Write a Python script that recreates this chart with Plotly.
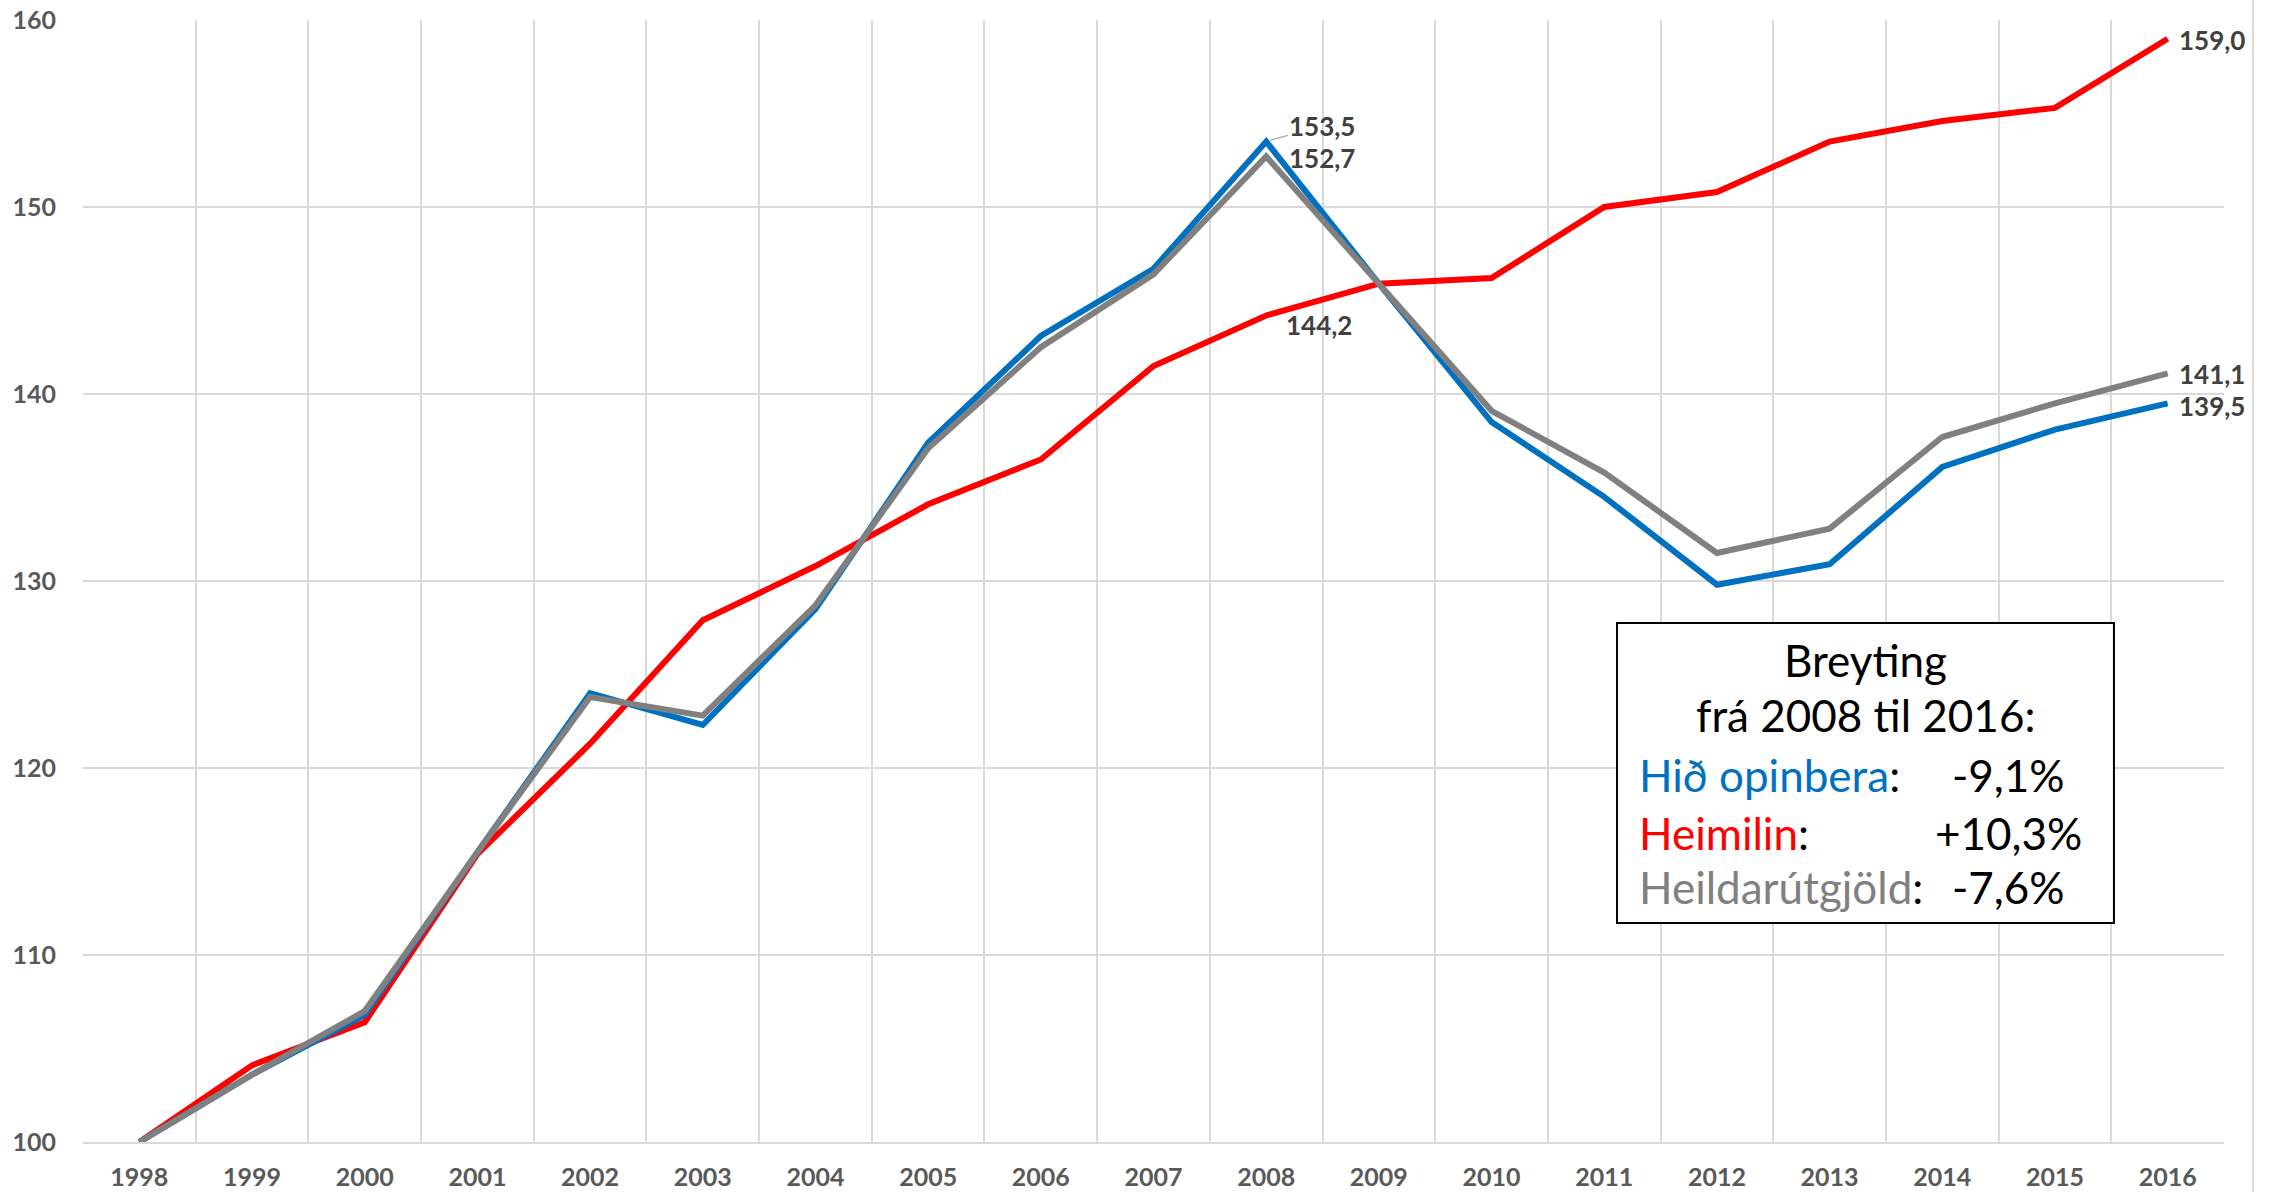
import plotly.graph_objects as go

years = [str(y) for y in range(1998, 2017)]
opinbera = [100, 103.6, 106.8, 115.5, 124.0, 122.3, 128.5, 137.4, 143.1, 146.7, 153.5,
            145.9, 138.5, 134.5, 129.8, 130.9, 136.1, 138.1, 139.5]
heimilin = [100, 104.1, 106.4, 115.4, 121.3, 127.9, 130.8, 134.1, 136.5, 141.5, 144.2,
            145.9, 146.2, 150.0, 150.8, 153.5, 154.6, 155.3, 159.0]
heild = [100, 103.6, 107.0, 115.5, 123.8, 122.8, 128.7, 137.1, 142.5, 146.4, 152.7,
         145.9, 139.1, 135.8, 131.5, 132.8, 137.7, 139.5, 141.1]
y_ticks = [100, 110, 120, 130, 140, 150, 160]

BLUE = "#0070C0"
RED = "#FF0000"
GRAY = "#808080"
FONT = "Lato"

fig = go.Figure()
for name, vals, col in [("Heimilin", heimilin, RED), ("Hið opinbera", opinbera, BLUE),
                        ("Heildarútgjöld", heild, GRAY)]:
    fig.add_trace(go.Scatter(x=years, y=vals, mode="lines", name=name,
                             line=dict(color=col, width=6), showlegend=False))

def fmt(v):
    return f"{v:.1f}".replace(".", ",")

lab_font = dict(family=FONT, size=26, color="#404040", weight="bold")
ann = []
i08 = years.index("2008")
i16 = len(years) - 1
# 2008 labels
ann.append(dict(x=i08, y=opinbera[i08], text=fmt(opinbera[i08]), showarrow=True,
                arrowhead=0, arrowwidth=1.2, arrowcolor="#A6A6A6", ax=56, ay=-16,
                standoff=4, font=lab_font, xanchor="center", yanchor="middle"))
ann.append(dict(x=i08, y=heild[i08], text=fmt(heild[i08]), showarrow=False,
                xshift=56, yshift=-1, font=lab_font, xanchor="center", yanchor="middle"))
ann.append(dict(x=i08, y=heimilin[i08], text=fmt(heimilin[i08]), showarrow=False,
                xshift=53, yshift=-10, font=lab_font, xanchor="center", yanchor="middle"))
# 2016 labels
for vals, ys in [(heimilin, -1), (heild, -1), (opinbera, -3)]:
    ann.append(dict(x=i16, y=vals[-1], text=fmt(vals[-1]), showarrow=False,
                    xanchor="left", yanchor="middle", xshift=9, yshift=ys, font=lab_font))

# change box
box_font = 44
bx0, bx1, by0, by1 = 0.7165, 0.9486, 0.1952, 0.4626
cx = (bx0 + bx1) / 2
ann.append(dict(xref="paper", yref="paper", x=cx, y=0.430, text="Breyting", showarrow=False,
                xanchor="center", yanchor="middle",
                font=dict(family=FONT, size=box_font, color="black")))
ann.append(dict(xref="paper", yref="paper", x=cx, y=0.381, text="frá 2008 til 2016:",
                showarrow=False, xanchor="center", yanchor="middle",
                font=dict(family=FONT, size=box_font, color="black")))
rows = [("Hið opinbera", BLUE, "-9,1%", 0.327), ("Heimilin", RED, "+10,3%", 0.275),
        ("Heildarútgjöld", GRAY, "-7,6%", 0.227)]
for lab, col, val, yy in rows:
    ann.append(dict(xref="paper", yref="paper", x=0.7257, y=yy, xanchor="left",
                    yanchor="middle",
                    text=f"<span style='color:{col}'>{lab}</span>:", showarrow=False,
                    font=dict(family=FONT, size=box_font, color="black")))
    ann.append(dict(xref="paper", yref="paper", x=0.8995, y=yy, xanchor="center",
                    yanchor="middle", text=val, showarrow=False,
                    font=dict(family=FONT, size=box_font, color="black")))

fig.update_layout(
    width=2272, height=1192,
    margin=dict(l=83, r=48, t=20, b=50, autoexpand=False),
    plot_bgcolor="white", paper_bgcolor="white",
    annotations=ann,
    shapes=[dict(type="rect", xref="paper", yref="paper", x0=bx0, x1=bx1, y0=by0, y1=by1,
                 line=dict(color="black", width=2), fillcolor="white", layer="above"),
            dict(type="line", xref="paper", yref="paper", x0=1.0135, x1=1.0135,
                 y0=-0.05, y1=1.02, line=dict(color="#D9D9D9", width=2))],
    xaxis=dict(type="category", categoryorder="array", categoryarray=years,
               range=[-0.5, len(years) - 0.5], tickson="boundaries", ticks="",
               showgrid=True, gridcolor="#D9D9D9", gridwidth=2, automargin=False,
               showline=True, linecolor="#D9D9D9", linewidth=2,
               tickfont=dict(family=FONT, size=25, color="#595959", weight="bold"),
               ticklabelstandoff=12, zeroline=False),
    yaxis=dict(range=[100, 160], tickvals=y_ticks, ticks="", automargin=False,
               showgrid=True, gridcolor="#D9D9D9", gridwidth=2, zeroline=False,
               tickfont=dict(family=FONT, size=25, color="#595959", weight="bold"),
               ticklabelstandoff=26),
)
# remove the browser's default body margin so the figure fills the window exactly
fig.write_html("out.html", config={"displayModeBar": False},
               post_script="document.body.style.margin='0px';"
                           "document.body.style.overflow='hidden';")
